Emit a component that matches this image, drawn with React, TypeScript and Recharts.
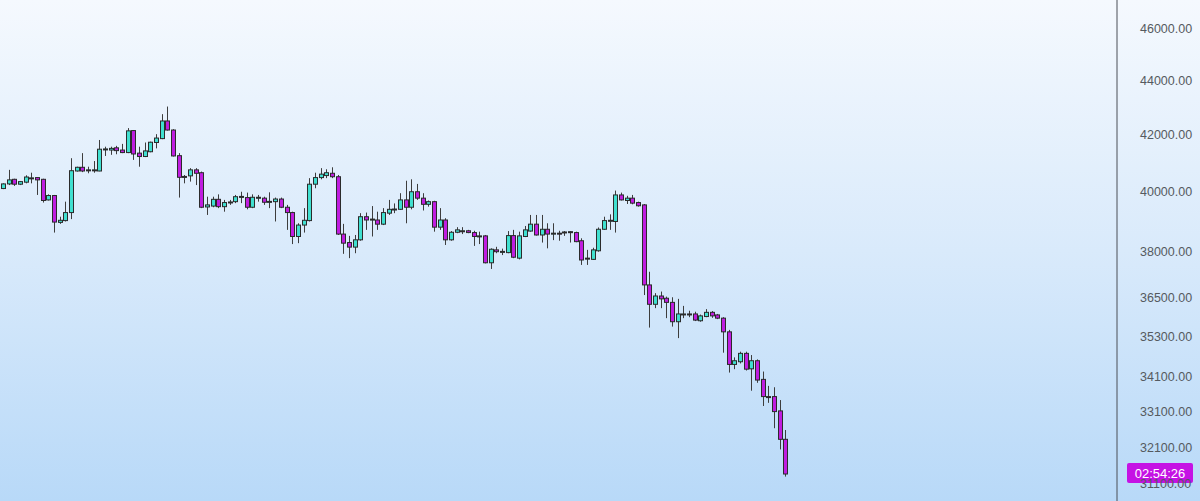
import { ComposedChart, Bar, XAxis, YAxis, ReferenceLine } from 'recharts';

// candles, oldest first
const OPEN = [
  40100, 40260, 40420, 40250, 40320, 40460, 40480, 40420, 39710, 39860,
  38950, 39010, 39280, 40710, 40840, 40740, 40730, 40710, 41470, 41450,
  41530, 41450, 41360, 42150, 41340, 41220, 41390, 41720, 41860, 42500,
  42170, 41250, 40500, 40540, 40750, 40650, 39470, 39500, 39730, 39480,
  39630, 39650, 39810, 39790, 39460, 39790, 39770, 39650, 39650, 39740,
  39460, 39280, 38480, 38860, 39010, 40250, 40480, 40550, 40630, 40510,
  38560, 38280, 38130, 38370, 39140, 39050, 39030, 38890, 39260, 39380,
  39390, 39710, 39460, 39990, 39770, 39560, 39650, 38790, 39030, 38370,
  38620, 38660, 38670, 38610, 38490, 38500, 37620, 38040, 37980, 37950,
  38510, 37770, 38480, 38660, 38890, 38530, 38720, 38580, 38590, 38610,
  38630, 38610, 38340, 37760, 37730, 38010, 38720, 39000, 38980, 39880,
  39690, 39770, 39620, 39540, 36910, 36300, 36560, 36490, 36360, 35760,
  35990, 36000, 36000, 35790, 35920, 36050, 35970, 35870, 35450, 34470,
  34550, 34800, 34340, 34580, 34030, 33530, 33530, 33120, 32320,
];
const HIGH = [
  40280, 40750, 40440, 40360, 40560, 40650, 40490, 40440, 39900, 39880,
  39140, 39650, 41160, 40860, 41340, 40860, 41060, 41810, 41570, 41570,
  41600, 41670, 42240, 42170, 41570, 41720, 41750, 42020, 42750, 43030,
  42200, 41340, 40570, 40810, 40810, 40690, 39820, 39820, 39900, 39710,
  39710, 39880, 39990, 39960, 39900, 39880, 39820, 39970, 39790, 39790,
  39540, 39310, 38920, 39430, 40460, 40650, 40810, 40770, 40840, 40570,
  38900, 38500, 38530, 39260, 39280, 39500, 39310, 39430, 39710, 39590,
  39940, 40370, 40420, 40260, 39940, 39690, 39680, 39430, 39090, 38660,
  38790, 38790, 38700, 38670, 38640, 38530, 38090, 38140, 38080, 38660,
  38700, 38640, 38830, 39200, 39200, 39200, 38920, 38920, 38670, 38660,
  38660, 38640, 38420, 38040, 38110, 38780, 39140, 39220, 40030, 39960,
  39850, 39880, 39650, 39570, 37330, 36650, 36700, 36540, 36520, 36470,
  36250, 36100, 36070, 35980, 36150, 36090, 36000, 35900, 35510, 34680,
  34850, 34850, 34750, 34620, 34260, 33840, 33800, 33430, 32580,
];
const LOW = [
  40080, 40220, 40190, 40220, 40280, 40280, 39880, 39620, 39690, 38610,
  38900, 38980, 39060, 40690, 40670, 40630, 40650, 40700, 41240, 41280,
  41300, 41340, 41340, 41100, 40860, 41200, 41370, 41510, 41840, 42150,
  41220, 39790, 40280, 40340, 40220, 39430, 39200, 39460, 39430, 39310,
  39540, 39600, 39600, 39390, 39430, 39650, 39540, 39430, 38980, 39430,
  38700, 38230, 38260, 38610, 38980, 40110, 40420, 40460, 40460, 38530,
  37910, 37770, 37930, 38340, 38700, 38480, 38700, 38860, 39200, 39260,
  39370, 38920, 39390, 39710, 39350, 39480, 38640, 38700, 38200, 38340,
  38590, 38560, 38590, 38170, 38230, 37600, 37420, 37930, 37870, 37930,
  37770, 37730, 38460, 38640, 38510, 38280, 38090, 38360, 38340, 38500,
  38280, 38290, 37550, 37550, 37710, 37980, 38700, 38700, 38610, 39690,
  39570, 39560, 39480, 36590, 35580, 36180, 36180, 35870, 35610, 35260,
  35870, 35900, 35780, 35760, 35900, 35880, 35840, 34820, 34230, 34330,
  34500, 34290, 33700, 33930, 33260, 33350, 32630, 32040, 31300,
];
const CLOSE = [
  40260, 40400, 40250, 40340, 40500, 40470, 40400, 39690, 39860, 38960,
  39020, 39280, 40720, 40840, 40710, 40750, 40750, 41480, 41490, 41510,
  41430, 41360, 42140, 41310, 41220, 41420, 41730, 41880, 42500, 42170,
  41240, 40490, 40520, 40750, 40630, 39460, 39540, 39730, 39480, 39620,
  39640, 39820, 39830, 39460, 39800, 39800, 39630, 39660, 39740, 39460,
  39280, 38480, 38860, 39020, 40250, 40480, 40600, 40650, 40510, 38560,
  38260, 38130, 38370, 39140, 39030, 39060, 38890, 39280, 39390, 39400,
  39710, 39460, 39990, 39770, 39560, 39650, 38790, 39030, 38370, 38620,
  38700, 38670, 38610, 38480, 38500, 37620, 38060, 37980, 37990, 38510,
  37800, 38500, 38700, 38890, 38530, 38720, 38560, 38590, 38580, 38630,
  38640, 38310, 37710, 37770, 38040, 38720, 39010, 39020, 39880, 39710,
  39770, 39600, 39510, 36910, 36300, 36560, 36470, 36360, 35760, 36000,
  36000, 35990, 35810, 35940, 36050, 35940, 35870, 35450, 34470, 34580,
  34800, 34330, 34580, 34010, 33530, 33520, 33100, 32320, 31370,
];

const PRICE_TICKS = [31100, 32100, 33100, 34100, 35300, 36500, 38000, 40000, 42000, 44000, 46000];
const PRICE_DOMAIN = [30650, 47160];
const TOTAL_SLOTS = 197; // empty space kept on the right of the last candle
const TIMER = '02:54:26';

const BULL = '#40e0d0';
const BEAR = '#c01de0';

const data = Array.from({ length: TOTAL_SLOTS }, (_, i) =>
  i < OPEN.length
    ? { i, open: OPEN[i], high: HIGH[i], low: LOW[i], close: CLOSE[i] }
    : { i }
);

const Candle = (props: any) => {
  const { x, y, width, height, payload } = props;
  if (payload == null || payload.high == null) return null;
  const top = Math.min(y, y + height);
  const bottom = Math.max(y, y + height);
  const lh = Math.log(payload.high);
  const ll = Math.log(payload.low);
  // log axis: position inside the high/low span is linear in log(price)
  const toY = (v: number) => (lh === ll ? top : top + ((bottom - top) * (lh - Math.log(v))) / (lh - ll));
  const n = Math.round(x + width / 2);
  const cx = n + 0.5;
  const yo = toY(payload.open);
  const yc = toY(payload.close);
  const bodyTop = Math.min(yo, yc);
  const bodyH = Math.max(Math.abs(yc - yo), 1);
  const bull = payload.close >= payload.open;
  return (
    <g>
      <line x1={cx} x2={cx} y1={top} y2={bottom} stroke="#3d3d3d" strokeWidth={1} />
      <rect
        x={n - 1.5}
        y={bodyTop}
        width={4}
        height={bodyH}
        fill={bull ? BULL : BEAR}
        stroke="#2b2b2b"
        strokeWidth={1}
      />
    </g>
  );
};

const TimerLabel = (props: any) => {
  const vb = props.viewBox;
  if (!vb) return null;
  const lx = vb.x + vb.width + 10;
  return (
    <g>
      <rect x={lx} y={vb.y - 11} width={66} height={20} rx={2} fill="#c512e4" />
      <text x={lx + 33} y={vb.y + 4} textAnchor="middle" fill="#ffffff" fontSize={13} fontFamily="Liberation Sans, Arial, sans-serif">
        {TIMER}
      </text>
    </g>
  );
};

export default function App() {
  return (
    <div
      style={{
        position: 'absolute',
        left: 0,
        top: 0,
        width: 1200,
        height: 501,
        background: 'linear-gradient(to bottom, #f5f9fe 0%, #d9eafb 50%, #b8d9f8 100%)',
      }}
    >
      <ComposedChart width={1200} height={501} data={data} margin={{ top: 0, right: 0, bottom: 0, left: 0 }} barCategoryGap={0}>
        <XAxis dataKey="i" type="category" hide />
        <YAxis
          orientation="right"
          type="number"
          scale="log"
          domain={PRICE_DOMAIN}
          allowDataOverflow
          ticks={PRICE_TICKS}
          interval={0}
          width={83}
          tickFormatter={(v: number) => v.toFixed(2)}
          axisLine={{ stroke: '#4a4f57', strokeWidth: 1 }}
          tickLine={false}
          tickSize={0}
          tickMargin={23}
          tick={{ fill: '#555a60', fontSize: 12.5, fontFamily: 'Liberation Sans, Arial, sans-serif' }}
        />
        <Bar
          dataKey={(d: any) => (d.high == null ? undefined : [d.low, d.high])}
          shape={(p: any) => <Candle {...p} />}
          isAnimationActive={false}
        />
        <ReferenceLine y={CLOSE[CLOSE.length - 1]} stroke="none" label={<TimerLabel />} />
      </ComposedChart>
    </div>
  );
}
